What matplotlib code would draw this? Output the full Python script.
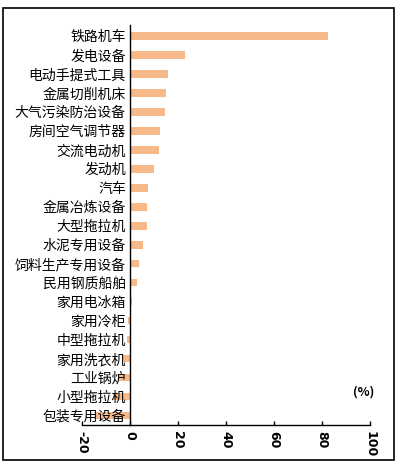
import matplotlib
matplotlib.use('Agg')
import matplotlib.pyplot as plt
import matplotlib.patheffects as pe
from matplotlib.patches import Rectangle

plt.rcParams['font.family'] = ['Noto Sans CJK SC', 'DejaVu Sans']

categories = ['铁路机车', '发电设备', '电动手提式工具', '金属切削机床', '大气污染防治设备',
              '房间空气调节器', '交流电动机', '发动机', '汽车', '金属冶炼设备', '大型拖拉机',
              '水泥专用设备', '饲料生产专用设备', '民用钢质船舶', '家用电冰箱', '家用冷柜',
              '中型拖拉机', '家用洗衣机', '工业锅炉', '小型拖拉机', '包装专用设备']
values = [82.5, 23.0, 15.8, 15.0, 14.5, 12.5, 12.0, 10.0, 7.5, 7.0, 7.0,
          5.3, 3.8, 2.8, 0.8, -1.0, -1.2, -2.8, -5.0, -7.0, -14.0]
x_ticks = [-20, 0, 20, 40, 60, 80, 100]

fig = plt.figure(figsize=(3.99, 4.72), dpi=100)
ax = fig.add_axes([0.2055, 0.0996, 0.7215, 0.8475])

ax.barh(range(len(categories)), values, height=0.4, color='#F8B98A', zorder=1)

bold = [pe.withStroke(linewidth=0.7, foreground='black')]

ax.set_xlim(-20, 100)
ax.set_ylim(len(categories) - 0.5, -0.58)
ax.set_xticks(x_ticks)
ax.set_xticklabels([str(t) for t in x_ticks], rotation=-90, fontsize=9, fontweight='bold',
                   family=['DejaVu Sans'])
ax.tick_params(axis='x', direction='in', length=3, width=1, pad=4)

ax.set_yticks(range(len(categories)))
ax.set_yticklabels(categories, fontsize=9.2, fontweight='bold')
ax.tick_params(axis='y', length=0, pad=3)
for lbl in ax.get_yticklabels():
    lbl.set_path_effects(bold)

ax.spines['left'].set_position(('data', 0))
ax.spines['top'].set_visible(False)
ax.spines['right'].set_visible(False)
ax.spines['left'].set_linewidth(1)
ax.spines['bottom'].set_linewidth(1)

ax.text(364 / 399, (472 - 392) / 472, '(%)', transform=fig.transFigure,
        ha='center', va='center', fontsize=9, fontweight='bold')

fig.patches.append(Rectangle((3 / 399, 12 / 472), 391 / 399, 452 / 472,
                             transform=fig.transFigure, fill=False,
                             edgecolor='black', linewidth=1.2))

fig.savefig('out.png', dpi=100)
